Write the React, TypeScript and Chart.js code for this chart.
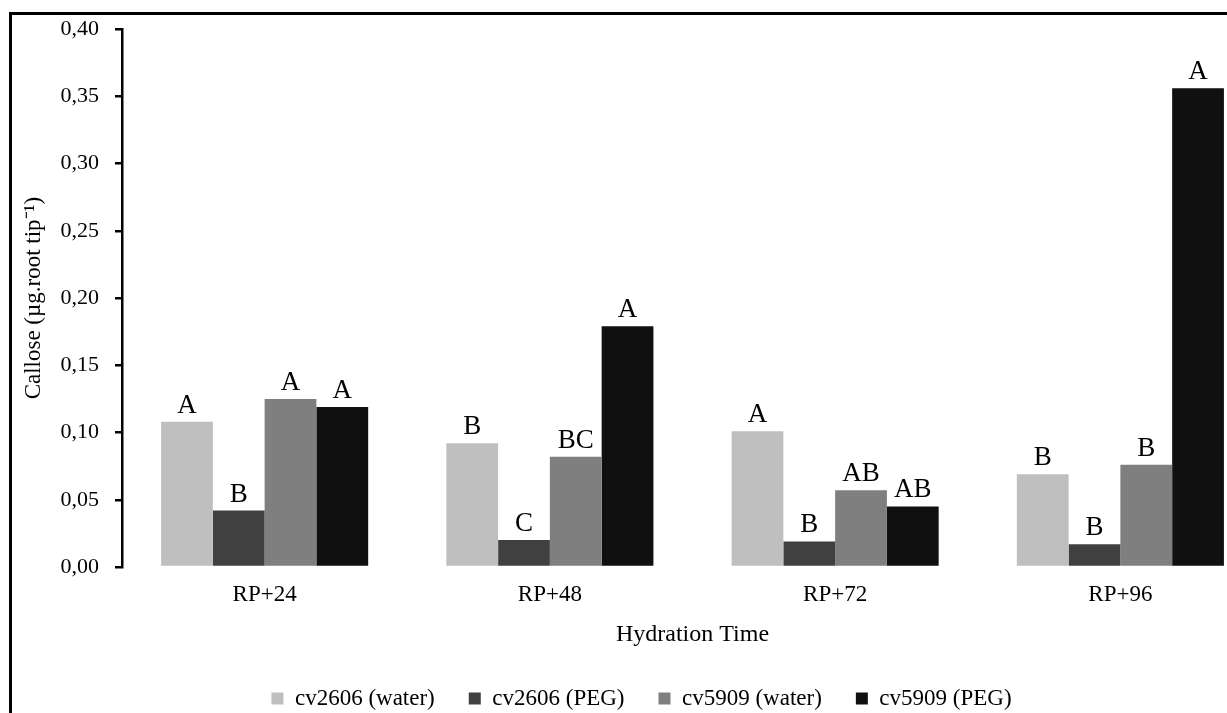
import { useEffect, useRef } from "react";
import { Chart, registerables } from "chart.js";

Chart.register(...registerables);

const categories = ["RP+24", "RP+48", "RP+72", "RP+96"];
const seriesNames = ["cv2606 (water)", "cv2606 (PEG)", "cv5909 (water)", "cv5909 (PEG)"];
const cv2606Water = [0.108, 0.092, 0.101, 0.069];
const cv2606Peg = [0.042, 0.02, 0.019, 0.017];
const cv5909Water = [0.125, 0.082, 0.057, 0.076];
const cv5909Peg = [0.119, 0.179, 0.045, 0.356];
const lettersCv2606Water = ["A", "B", "A", "B"];
const lettersCv2606Peg = ["B", "C", "B", "B"];
const lettersCv5909Water = ["A", "BC", "AB", "B"];
const lettersCv5909Peg = ["A", "A", "AB", "A"];
const seriesColors = ["#BFBFBF", "#404040", "#7F7F7F", "#101010"];
const yMin = 0;
const yMax = 0.4;
const yStep = 0.05;
const xTitle = "Hydration Time";
const yTitle = "Callose (µg.root tip⁻¹)";

const FONT = "'Liberation Serif', 'Times New Roman', serif";

const letterPlugin = {
  id: "letters",
  afterDatasetsDraw(chart: any) {
    const ctx = chart.ctx;
    ctx.save();
    ctx.font = `27px ${FONT}`;
    ctx.fillStyle = "#000";
    ctx.textAlign = "center";
    ctx.textBaseline = "alphabetic";
    chart.data.datasets.forEach((ds: any, i: number) => {
      const meta = chart.getDatasetMeta(i);
      meta.data.forEach((el: any, j: number) => {
        const t = ds.letters[j];
        if (t) ctx.fillText(t, el.x, el.y - 9);
      });
    });
    ctx.restore();
  },
};

export default function App() {
  const canvasRef = useRef<HTMLCanvasElement | null>(null);

  useEffect(() => {
    if (!canvasRef.current) return;
    const values = [cv2606Water, cv2606Peg, cv5909Water, cv5909Peg];
    const letters = [lettersCv2606Water, lettersCv2606Peg, lettersCv5909Water, lettersCv5909Peg];
    const chart = new Chart(canvasRef.current, {
      type: "bar",
      data: {
        labels: categories,
        datasets: seriesNames.map((name, i) => ({
          label: name,
          data: values[i],
          backgroundColor: seriesColors[i],
          borderWidth: 0,
          categoryPercentage: 0.726,
          barPercentage: 1,
          letters: letters[i],
        })) as any,
      },
      options: {
        animation: false,
        responsive: true,
        maintainAspectRatio: false,
        layout: { padding: { top: 29, left: 20, right: 0, bottom: 8 } },
        plugins: {
          tooltip: { enabled: false },
          legend: {
            display: true,
            position: "bottom",
            labels: {
              boxWidth: 12,
              boxHeight: 12,
              padding: 34,
              color: "#000",
              font: { family: FONT, size: 23 },
            },
          },
        },
        scales: {
          x: {
            grid: { display: false },
            border: { display: false },
            ticks: { color: "#000", font: { family: FONT, size: 23 }, padding: 6 },
            title: {
              display: true,
              text: xTitle,
              color: "#000",
              font: { family: FONT, size: 24 },
              padding: { top: 0, bottom: 4 },
            },
            afterFit(scale: any) {
              scale.height = 86;
            },
          },
          y: {
            min: yMin,
            max: yMax,
            ticks: {
              stepSize: yStep,
              color: "#000",
              padding: 16,
              font: { family: FONT, size: 22 },
              callback: (v: any) => Number(v).toFixed(2).replace(".", ","),
            },
            grid: {
              display: true,
              drawOnChartArea: false,
              drawTicks: true,
              tickLength: 7,
              tickColor: "#000",
              lineWidth: 2.5,
            },
            border: { display: true, color: "#000", width: 2.5 },
            title: {
              display: true,
              text: yTitle,
              color: "#000",
              font: { family: FONT, size: 23 },
              padding: { top: 0, bottom: 0 },
            },
            afterFit(scale: any) {
              scale.width = 102;
            },
          },
        },
      },
      plugins: [letterPlugin],
    });
    return () => chart.destroy();
  }, []);

  return (
    <div
      style={{
        position: "fixed",
        left: 0,
        top: 0,
        width: 1227,
        height: 713,
        overflow: "hidden",
        background: "#fff",
      }}
    >
      <div style={{ position: "absolute", left: 0, top: 0, width: 1263, height: 728 }}>
        <canvas ref={canvasRef} />
      </div>
      <div
        style={{
          position: "absolute",
          left: 9,
          top: 12,
          width: 1400,
          height: 900,
          border: "3px solid #000",
          pointerEvents: "none",
        }}
      />
    </div>
  );
}
